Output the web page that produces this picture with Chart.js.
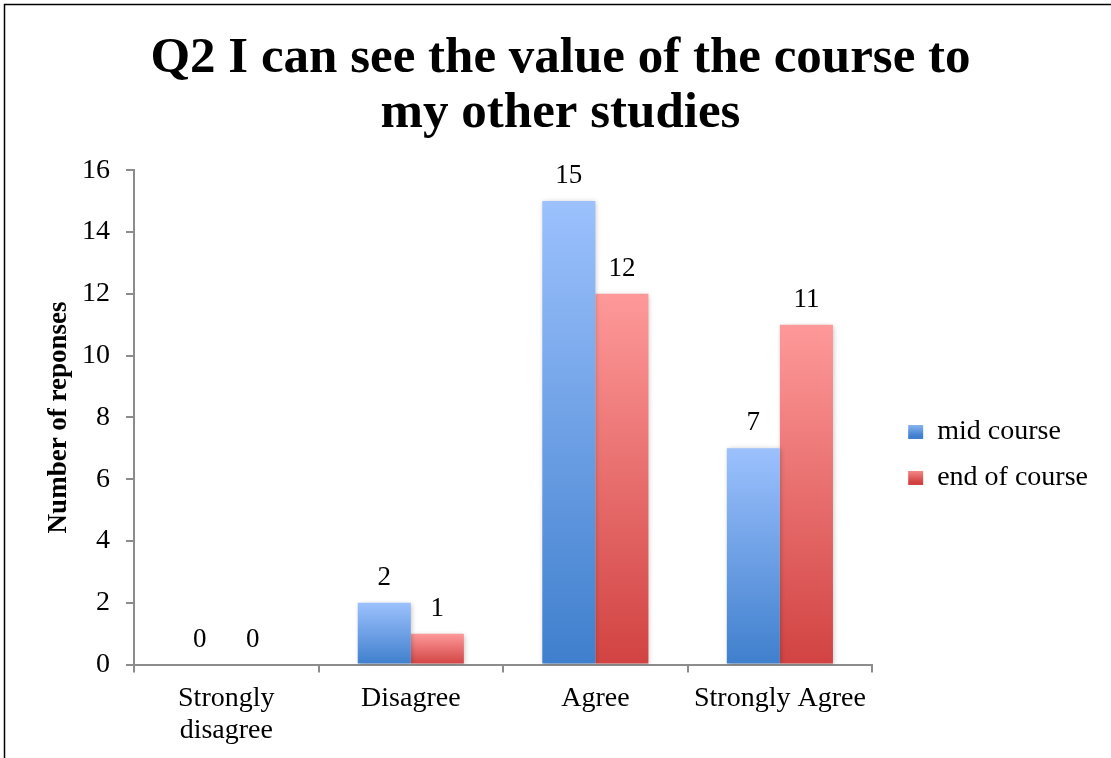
<!DOCTYPE html>
<html>
<head>
<meta charset="utf-8">
<script src="https://cdn.jsdelivr.net/npm/chart.js@4/dist/chart.umd.min.js"></script>
<style>
  html, body { margin: 0; padding: 0; background: #fff; }
  #wrap { position: relative; width: 1111px; height: 758px; }
  canvas { display: block; }
</style>
</head>
<body>
<div id="wrap"><canvas id="c" width="1111" height="758"></canvas></div>
<script>
const categories = [['Strongly', 'disagree'], 'Disagree', 'Agree', 'Strongly Agree'];
const midCourse = [0, 2, 15, 7];
const endOfCourse = [0, 1, 12, 11];
const seriesNames = ['mid course', 'end of course'];
const yTicks = [0, 2, 4, 6, 8, 10, 12, 14, 16];
const titleLines = ['Q2 I can see the value of the course to', 'my other studies'];
const yAxisTitle = 'Number of reponses';

const FONT = "'Liberation Serif', 'DejaVu Serif', serif";
const BLUE = ['#9CC1FD', '#3F7FCD'];
const RED = ['#FE9999', '#D14342'];

function barGradient(cols) {
  return (context) => {
    const chart = context.chart;
    const y = chart.scales && chart.scales.y;
    if (!y || context.raw === undefined || !chart.chartArea) return cols[1];
    const yTop = y.getPixelForValue(context.raw);
    const yBot = y.getPixelForValue(0);
    if (!isFinite(yTop) || !isFinite(yBot) || Math.abs(yBot - yTop) < 1) return cols[1];
    const g = chart.ctx.createLinearGradient(0, yTop, 0, yBot);
    g.addColorStop(0, cols[0]);
    g.addColorStop(1, cols[1]);
    return g;
  };
}

const framePlugin = {
  id: 'frame',
  beforeDraw(chart) {
    const c = chart.ctx;
    c.save();
    c.fillStyle = '#fff';
    c.fillRect(0, 0, chart.width, chart.height);
    c.strokeStyle = '#000';
    c.lineWidth = 1.5;
    c.beginPath();
    c.moveTo(4.5, chart.height);
    c.lineTo(4.5, 4.5);
    c.lineTo(chart.width, 4.5);
    c.stroke();
    c.restore();
  }
};

// nudge the legend (away from plot) and the title (slightly right)
const layoutNudge = {
  id: 'layoutNudge',
  afterLayout(chart) {
    const L = chart.legend;
    if (L) { L.left += 18; L.right += 18; }
    const T = chart.titleBlock;
    if (T) { T.left += 4; T.right += 4; }
  }
};

const shadowPlugin = {
  id: 'barShadow',
  beforeDatasetsDraw(chart) {
    const c = chart.ctx;
    c.save();
    c.shadowColor = 'rgba(0,0,0,0.25)';
    c.shadowBlur = 5;
    c.shadowOffsetX = 1;
    c.shadowOffsetY = 1;
  },
  afterDatasetsDraw(chart) {
    chart.ctx.restore();
  }
};

const valueLabels = {
  id: 'valueLabels',
  afterDatasetsDraw(chart) {
    const c = chart.ctx;
    c.save();
    c.font = "27px " + FONT;
    c.fillStyle = '#000';
    c.textAlign = 'center';
    c.textBaseline = 'middle';
    chart.data.datasets.forEach((ds, di) => {
      const meta = chart.getDatasetMeta(di);
      meta.data.forEach((bar, i) => {
        c.fillText(String(ds.data[i]), bar.x, bar.y - 25);
      });
    });
    c.restore();
  }
};

function swatch(chart, cols, i) {
  const top = 422 + i * 46, bot = top + 14;
  const g = chart.ctx.createLinearGradient(0, top, 0, bot);
  g.addColorStop(0, cols[0]);
  g.addColorStop(1, cols[1]);
  return g;
}

new Chart(document.getElementById('c'), {
  type: 'bar',
  data: {
    labels: categories,
    datasets: [
      {
        label: seriesNames[0],
        data: midCourse,
        backgroundColor: barGradient(BLUE),
        borderWidth: 0,
        categoryPercentage: 0.575,
        barPercentage: 1.0
      },
      {
        label: seriesNames[1],
        data: endOfCourse,
        backgroundColor: barGradient(RED),
        borderWidth: 0,
        categoryPercentage: 0.575,
        barPercentage: 1.0
      }
    ]
  },
  options: {
    responsive: false,
    animation: false,
    devicePixelRatio: 1,
    layout: { padding: { left: 33, right: 31, top: 31, bottom: 1 } },
    plugins: {
      title: {
        display: true,
        text: titleLines,
        color: '#000',
        font: { family: FONT, size: 51, weight: 'bold', lineHeight: 1.08 },
        padding: { top: 0, bottom: 29 }
      },
      legend: {
        display: true,
        position: 'right',
        align: 'center',
        title: {
          display: true,
          text: '',
          font: { family: FONT, size: 10, lineHeight: 1 },
          padding: { top: 112, bottom: 0 }
        },
        labels: {
          color: '#000',
          font: { family: FONT, size: 28 },
          boxWidth: 15,
          boxHeight: 14,
          padding: 18,
          generateLabels(chart) {
            const cols = [BLUE, RED];
            return chart.data.datasets.map((ds, i) => ({
              text: ds.label,
              fillStyle: swatch(chart, cols[i], i),
              strokeStyle: 'rgba(0,0,0,0)',
              fontColor: '#000',
              lineWidth: 0,
              datasetIndex: i,
              hidden: false
            }));
          }
        }
      },
      tooltip: { enabled: false }
    },
    scales: {
      x: {
        grid: {
          display: true,
          drawOnChartArea: false,
          drawTicks: true,
          tickLength: 8,
          color: '#8c8c8c',
          lineWidth: 2,
          offset: true
        },
        border: { display: true, color: '#8c8c8c', width: 2 },
        ticks: {
          color: '#000',
          font: { family: FONT, size: 28, lineHeight: 1.15 },
          padding: 10,
          maxRotation: 0,
          autoSkip: false
        }
      },
      y: {
        min: 0,
        max: 16,
        afterBuildTicks(scale) { scale.ticks = yTicks.map(v => ({ value: v })); },
        afterFit(scale) { scale.width = 101; },
        grid: {
          display: true,
          drawOnChartArea: false,
          drawTicks: true,
          tickLength: 8,
          color: '#8c8c8c',
          lineWidth: 2
        },
        border: { display: true, color: '#8c8c8c', width: 2 },
        ticks: {
          color: '#000',
          font: { family: FONT, size: 28 },
          padding: 16
        },
        title: {
          display: true,
          text: yAxisTitle,
          color: '#000',
          font: { family: FONT, size: 27, weight: 'bold', lineHeight: 1 },
          padding: { top: 13, bottom: 10 }
        }
      }
    }
  },
  plugins: [framePlugin, layoutNudge, shadowPlugin, valueLabels]
});
</script>
</body>
</html>
